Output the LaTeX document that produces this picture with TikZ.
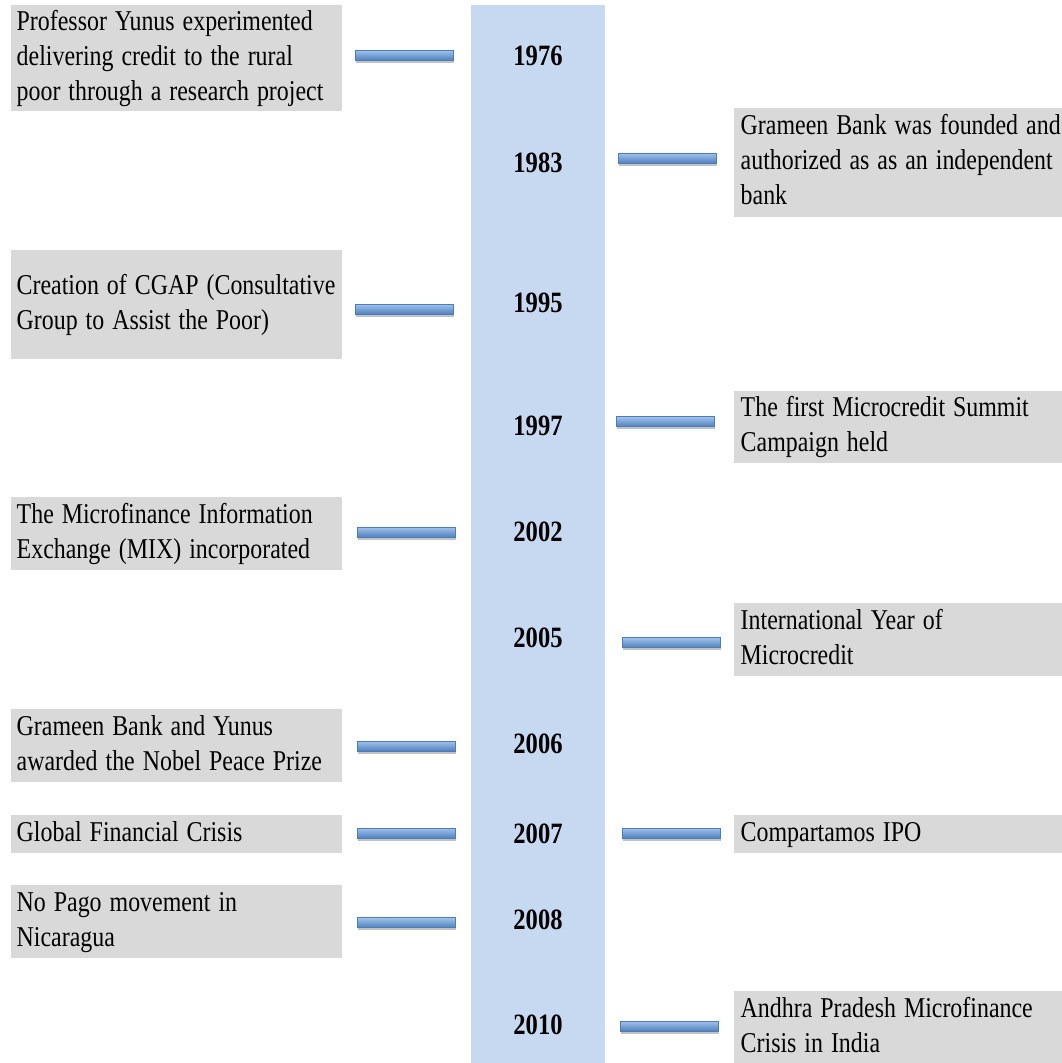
\documentclass[tikz,border=0pt]{standalone}
\usepackage{fontspec}
\setmainfont{Liberation Serif}
\usetikzlibrary{shadows}
\definecolor{boxgray}{HTML}{D9D9D9}
\definecolor{colblue}{HTML}{C6D9F1}
\definecolor{barblue}{HTML}{4F81BD}
\definecolor{barlight}{HTML}{A3C3EC}
\definecolor{baredge}{HTML}{4A7EBB}
\newcommand{\sqz}[1]{\scalebox{0.833}[1]{#1}}
\newcommand{\evtext}[1]{\sqz{\begin{tabular}{@{}l@{}}#1\end{tabular}}}
\begin{document}
\begin{tikzpicture}[x=1pt,y=-1pt,
  evfont/.style={font=\fontsize{28.7}{35}\selectfont},
  leftbox/.style={evfont, fill=boxgray, inner sep=0pt, minimum width=331pt, text width=320pt, align=left, anchor=west},
  rightbox/.style={evfont, fill=boxgray, inner sep=0pt, minimum width=328pt, text width=315pt, align=left, anchor=west},
  yearlbl/.style={font=\fontsize{29.5}{35}\selectfont\bfseries, inner sep=0pt},
  tick/.style={rectangle, inner sep=0pt, minimum width=98pt, minimum height=10pt,
    draw=baredge, line width=1pt, top color=barlight, bottom color=barblue,
    drop shadow={shadow xshift=0.5pt, shadow yshift=-2.5pt, opacity=0.4, fill=black!60}},
  column/.style={rectangle, fill=colblue, inner sep=0pt, minimum width=134pt, minimum height=1058pt}
]
\useasboundingbox (0,0) rectangle (1062,1063);

% central column
\node[column] (col) at (538,534) {};

% year labels
\node[yearlbl] (y1976) at (538,55.5) {\sqz{1976}};
\node[yearlbl] (y1983) at (538,162.5) {\sqz{1983}};
\node[yearlbl] (y1995) at (538,303) {\sqz{1995}};
\node[yearlbl] (y1997) at (538,425.5) {\sqz{1997}};
\node[yearlbl] (y2002) at (538,532) {\sqz{2002}};
\node[yearlbl] (y2005) at (538,637.5) {\sqz{2005}};
\node[yearlbl] (y2006) at (538,744) {\sqz{2006}};
\node[yearlbl] (y2007) at (538,834) {\sqz{2007}};
\node[yearlbl] (y2008) at (538,920) {\sqz{2008}};
\node[yearlbl] (y2010) at (538,1025) {\sqz{2010}};

% left event boxes
\node[leftbox, minimum height=106pt] (e1976) at (11,58) {\evtext{Professor Yunus experimented\\delivering credit to the rural\\poor through a research project}};
\node[leftbox, minimum height=109pt] (e1995) at (11,304.5) {\evtext{Creation of CGAP (Consultative\\Group to Assist the Poor)}};
\node[leftbox, minimum height=73pt] (e2002) at (11,533.5) {\evtext{The Microfinance Information\\Exchange (MIX) incorporated}};
\node[leftbox, minimum height=73pt] (e2006) at (11,745.5) {\evtext{Grameen Bank and Yunus\\awarded the Nobel Peace Prize}};
\node[leftbox, minimum height=38pt] (e2007l) at (11,834) {\evtext{Global Financial Crisis}};
\node[leftbox, minimum height=73pt] (e2008) at (11,921.5) {\evtext{No Pago movement in\\Nicaragua}};

% right event boxes
\node[rightbox, minimum height=109pt] (e1983) at (734,162.5) {\evtext{Grameen Bank was founded and\\authorized as as an independent\\bank}};
\node[rightbox, minimum height=72pt] (e1997) at (734,427) {\evtext{The first Microcredit Summit\\Campaign held}};
\node[rightbox, minimum height=73pt] (e2005) at (734,639.5) {\evtext{International Year of\\Microcredit}};
\node[rightbox, minimum height=38pt] (e2007r) at (734,834) {\evtext{Compartamos IPO}};
\node[rightbox, minimum height=73pt] (e2010) at (734,1027.5) {\evtext{Andhra Pradesh Microfinance\\Crisis in India}};

% tick bars
\node[tick] (t1976) at (404,55) {};
\node[tick] (t1983) at (667.5,158) {};
\node[tick] (t1995) at (404,309) {};
\node[tick] (t1997) at (665.5,421.5) {};
\node[tick] (t2002) at (406,532) {};
\node[tick] (t2005) at (671,642.5) {};
\node[tick] (t2006) at (406,746) {};
\node[tick] (t2007l) at (406,833) {};
\node[tick] (t2007r) at (671,833) {};
\node[tick] (t2008) at (406,922.5) {};
\node[tick] (t2010) at (669,1026) {};
\end{tikzpicture}
\end{document}
